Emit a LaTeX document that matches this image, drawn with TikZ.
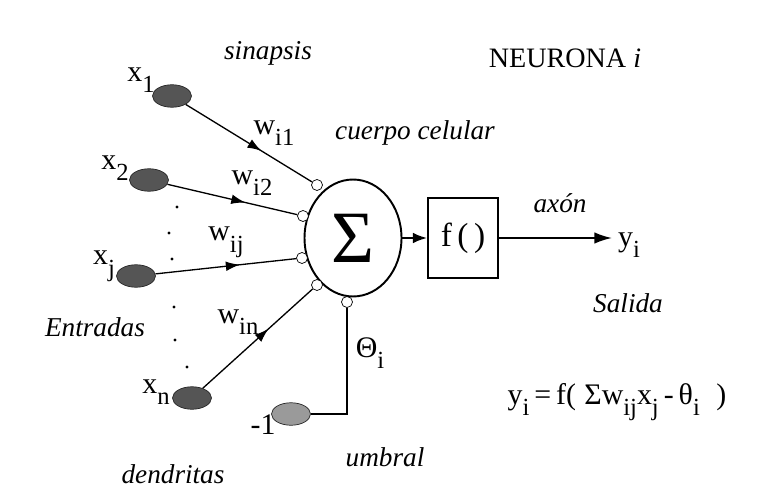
\documentclass[tikz,border=0pt]{standalone}
\usepackage{fontspec}
\setmainfont{Liberation Serif}
\usetikzlibrary{arrows.meta, positioning, shapes.geometric, decorations.markings}
\definecolor{nrdark}{HTML}{555555}
\definecolor{nrlight}{HTML}{9A9A9A}
\newcommand{\lowidx}[2]{#1\raisebox{-0.85ex}{\fontsize{14}{16}\selectfont #2}}

\begin{document}
\begin{tikzpicture}[
  x=0.02cm, y=-0.02cm,
  inp/.style={ellipse, draw=black!85, fill=nrdark, minimum width=0.78cm,
              minimum height=0.45cm, inner sep=0pt},
  syn/.style={circle, draw, fill=white, minimum size=0.22cm, inner sep=0pt},
  lbl/.style={font=\fontsize{15.5}{18}\selectfont\itshape},
  txt/.style={font=\fontsize{17}{20}\selectfont},
  wire/.style={line width=0.75pt},
  midarrow/.style={wire, postaction={decorate}, decoration={markings,
              mark=at position 0.6 with {\arrow{Latex[length=8pt,width=5.5pt]}}}},
]
  \useasboundingbox (0,0) rectangle (763,489);

  % cell body and activation
  \node[ellipse, draw, line width=1.1pt, minimum width=1.94cm, minimum height=2.34cm,
        font=\fontsize{42}{44}\selectfont] (sum) at (353,238) {Σ};
  \node[draw, line width=1.1pt, minimum width=1.4cm, minimum height=1.6cm,
        font=\fontsize{19}{22}\selectfont] (fbox) at (463,238) {f\,(\,)};

  % synapses
  \node[syn] (s1) at (317,185) {};
  \node[syn] (s2) at (303,216) {};
  \node[syn] (s3) at (302,258) {};
  \node[syn] (s4) at (317,285) {};
  \node[syn] (s0) at (347,302) {};

  % inputs
  \node[inp] (i1) at (172,96) {};
  \node[inp] (i2) at (149,180) {};
  \node[inp] (ij) at (136,276) {};
  \node[inp] (in) at (192,398) {};
  \node[inp, fill=nrlight] (bias) at (291,414) {};

  \node[txt] (l1) at (141,80) {\lowidx{x}{1}};
  \node[txt] (l2) at (115,168) {\lowidx{x}{2}};
  \node[txt] (lj) at (104,266) {\lowidx{x}{j}};
  \node[txt] (ln) at (156,392) {\lowidx{x}{n}};
  \node[txt] (lb) at (263,425) {-1};

  % dendrites
  \draw[midarrow] (i1) -- (s1);
  \draw[midarrow] (i2) -- (s2);
  \draw[midarrow] (ij) -- (s3);
  \draw[midarrow] (in) -- (s4);
  \draw[wire] (bias) -| (s0);

  \node[txt] (w1) at (274,133) {\lowidx{w}{i1}};
  \node[txt] (w2) at (252,183) {\lowidx{w}{i2}};
  \node[txt] (wj) at (226,242) {\lowidx{w}{ij}};
  \node[txt] (wn) at (238,322) {\lowidx{w}{in}};
  \node[txt] (th) at (370,353) {\lowidx{Θ}{i}};

  \foreach \p in {(177,207), (169,233), (172,259), (174,307), (175,340), (187,367)}
    \fill \p circle (1.7);

  % axon
  \node[txt, anchor=west] (yi) at (612,245) {\lowidx{y}{i}};
  \draw[-{Latex[length=8pt,width=6pt]}, line width=1.1pt] (sum) -- (fbox);
  \draw[-{Latex[length=10pt,width=6.5pt]}, line width=1.1pt] (fbox.east) -- (fbox.east -| yi.west);

  % labels
  \node[lbl] (sinap) at (268,53) {sinapsis};
  \node[txt, font=\fontsize{16}{19}\selectfont] (title) at (565,58) {NEURONA \textit{i}};
  \node[lbl] (body) at (415,133) {cuerpo celular};
  \node[lbl] (axon) at (560,203) {axón};
  \node[lbl] (out) at (628,303) {Salida};
  \node[lbl] (entr) at (95,327) {Entradas};
  \node[lbl] (umbr) at (385,457) {umbral};
  \node[lbl] (dend) at (173,474) {dendritas};
  \node[txt] (form) at (617,402)
    {\lowidx{y}{i}\,=\,f(\;Σ\lowidx{w}{ij}\lowidx{x}{j}\,-\,\lowidx{θ}{i}\;\;)};
\end{tikzpicture}
\end{document}
